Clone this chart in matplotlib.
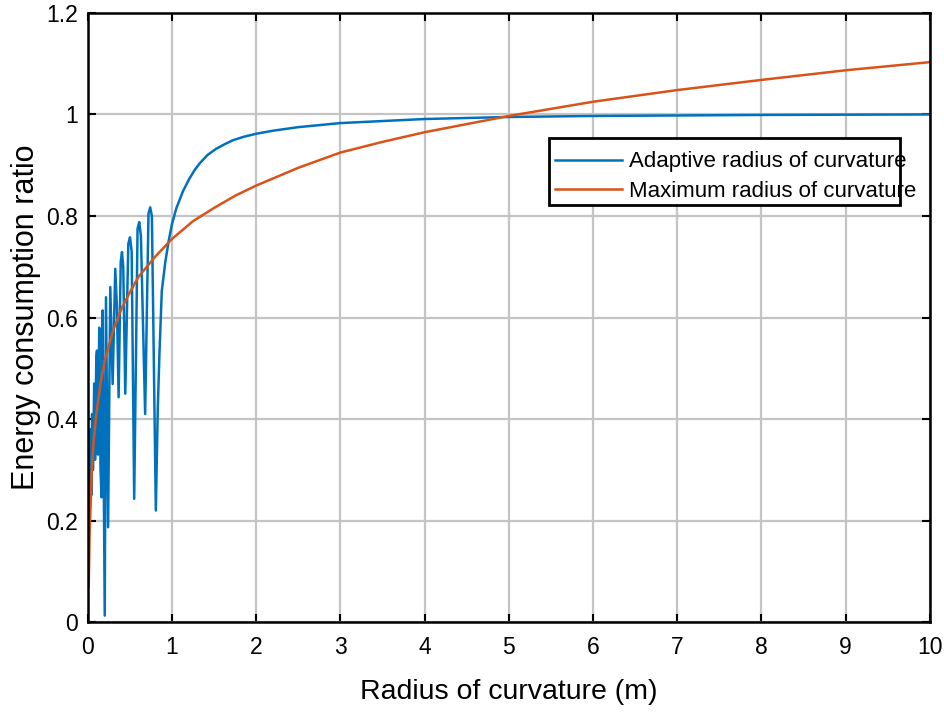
import matplotlib
matplotlib.use("Agg")
import matplotlib.pyplot as plt
from matplotlib.patches import Rectangle

plt.rcParams['font.family'] = ['Liberation Sans', 'DejaVu Sans']

# adaptive radius of curvature (blue)
adapt_x = [0.0, 0.01, 0.02, 0.03, 0.04, 0.05, 0.06, 0.075, 0.085, 0.1, 0.108, 0.12,
           0.135, 0.15, 0.163, 0.175, 0.2, 0.215, 0.24, 0.266, 0.294, 0.325, 0.345,
           0.365, 0.39, 0.405, 0.42, 0.444, 0.48, 0.50, 0.52, 0.55, 0.59, 0.61, 0.63,
           0.68, 0.72, 0.74, 0.76, 0.807, 0.83, 0.85, 0.878, 0.92, 0.964, 1.0, 1.05,
           1.13, 1.2, 1.27, 1.33, 1.42, 1.52, 1.62, 1.72, 1.85, 2.0, 2.2, 2.5, 3.0, 3.5,
           4.0, 5.0, 6.0, 7.0, 8.0, 9.0, 10.0]
adapt_y = [0.21, 0.18, 0.30, 0.38, 0.25, 0.41, 0.30, 0.47, 0.32, 0.52, 0.535, 0.33,
           0.58, 0.30, 0.246, 0.614, 0.013, 0.64, 0.187, 0.66, 0.469, 0.696, 0.62,
           0.443, 0.71, 0.729, 0.70, 0.45, 0.745, 0.758, 0.73, 0.243, 0.775, 0.788, 0.76,
           0.41, 0.805, 0.817, 0.80, 0.22, 0.42, 0.53, 0.653, 0.71, 0.755, 0.785, 0.815,
           0.849, 0.872, 0.891, 0.904, 0.92, 0.932, 0.941, 0.949, 0.956, 0.962, 0.968,
           0.975, 0.983, 0.987, 0.991, 0.995, 0.997, 0.998, 0.999, 0.9995, 1.0]

# maximum radius of curvature (orange)
max_x = [0.01, 0.02, 0.03, 0.05, 0.07, 0.1, 0.15, 0.2, 0.3, 0.4, 0.5, 0.6, 0.8, 1.0,
         1.25, 1.5, 1.75, 2.0, 2.5, 3.0, 3.5, 4.0, 5.0, 6.0, 7.0, 8.0, 9.0, 10.0]
max_y = [0.07, 0.17, 0.22, 0.31, 0.36, 0.41, 0.47, 0.515, 0.575, 0.618, 0.65, 0.68,
         0.72, 0.755, 0.79, 0.816, 0.84, 0.86, 0.895, 0.925, 0.946, 0.965, 0.997,
         1.025, 1.048, 1.068, 1.087, 1.103]

fig = plt.figure(figsize=(9.45, 7.16), dpi=100)
ax = fig.add_axes([0.093, 0.131, 0.891, 0.851])

ax.plot(adapt_x, adapt_y, color='#0072BD', lw=1.8, label='Adaptive radius of curvature')
ax.plot(max_x, max_y, color='#D95319', lw=1.8, label='Maximum radius of curvature')

ax.set_xlim(0, 10)
ax.set_ylim(0, 1.2)
ax.set_xticks(range(0, 11))
ax.set_yticks([0, 0.2, 0.4, 0.6, 0.8, 1.0, 1.2])
ax.set_yticklabels(['0', '0.2', '0.4', '0.6', '0.8', '1', '1.2'])
ax.grid(True, color='#c4c4c4', lw=1.6)
ax.set_axisbelow(True)
ax.tick_params(direction='in', top=True, right=True, labelsize=16.5, length=6,
               width=1.5)
ax.tick_params(axis='x', pad=10)
ax.tick_params(axis='y', pad=7)
for s in ax.spines.values():
    s.set_linewidth(1.8)

ax.set_xlabel('Radius of curvature (m)', fontsize=20.5, labelpad=14)
ax.set_ylabel('Energy consumption ratio', fontsize=22, labelpad=4)

# legend box (white background, black frame drawn on top like the original)
ax.add_patch(Rectangle((0.5475, 0.685), 0.4165, 0.11, transform=ax.transAxes,
                       facecolor='white', edgecolor='none', zorder=4))
leg = ax.legend(loc='center left', bbox_to_anchor=(0.5546, 0.731), fontsize=16,
                handlelength=3.0, handletextpad=0.35, borderpad=0, labelspacing=0.4,
                frameon=False, borderaxespad=0)
leg.set_zorder(5)
ax.add_patch(Rectangle((0.5475, 0.685), 0.4165, 0.11, transform=ax.transAxes,
                       facecolor='none', edgecolor='black', lw=2, zorder=6))

fig.savefig('out.png', dpi=100)
